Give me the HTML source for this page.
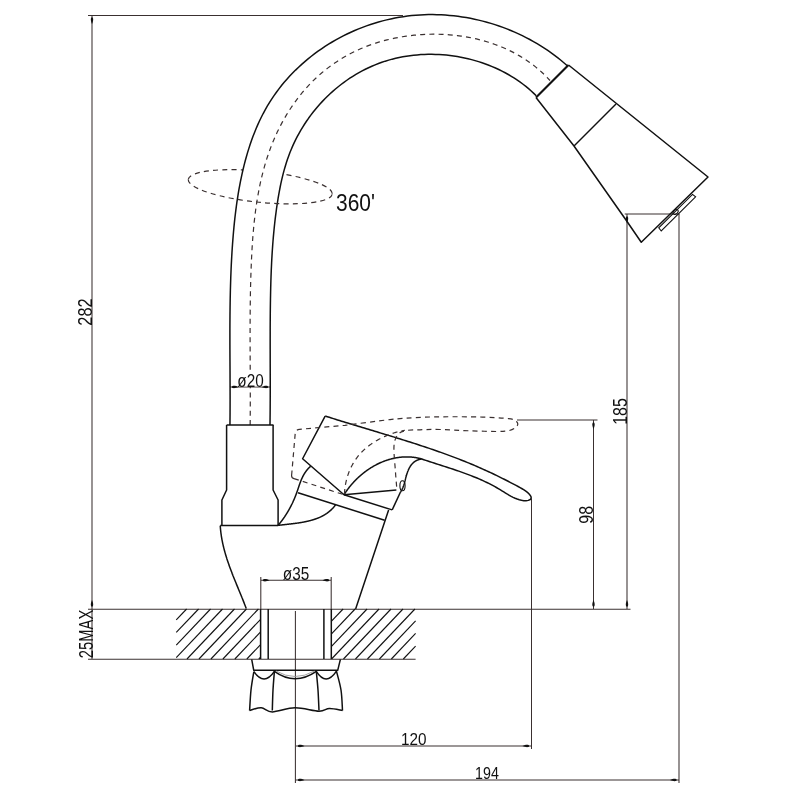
<!DOCTYPE html>
<html><head><meta charset="utf-8"><style>
html,body{margin:0;padding:0;background:#fff;width:800px;height:800px;overflow:hidden}
svg{display:block}
</style></head><body>
<svg width="800" height="800" viewBox="0 0 800 800">
<rect width="800" height="800" fill="#fff"/>
<path d="M188.29,179.44 A72.35,15.65 5.79 0 1 332.25,194.04" stroke="#3a3030" stroke-width="1.2" fill="none" stroke-dasharray="5 4.2"/>
<path d="M229.94,425.00 L229.99,420.79 L230.03,416.58 L230.06,412.37 L230.08,408.16 L230.09,403.95 L230.10,399.74 L230.10,395.53 L230.09,391.32 L230.08,387.11 L230.07,382.90 L230.05,378.69 L230.04,374.48 L230.02,370.26 L230.00,366.05 L229.98,361.84 L229.96,357.63 L229.94,353.42 L229.92,349.21 L229.91,345.00 L229.90,340.79 L229.90,336.58 L229.90,332.38 L229.91,328.17 L229.92,323.96 L229.95,319.75 L229.98,315.54 L230.02,311.34 L230.07,307.13 L230.13,302.92 L230.20,298.72 L230.29,294.51 L230.38,290.31 L230.50,286.10 L230.62,281.90 L230.76,277.70 L230.92,273.50 L231.09,269.29 L231.28,265.09 L231.49,260.89 L231.72,256.69 L231.97,252.49 L232.24,248.30 L232.53,244.10 L232.85,239.90 L233.18,235.71 L233.54,231.51 L233.93,227.32 L234.34,223.13 L234.79,218.94 L235.27,214.76 L235.78,210.57 L236.33,206.40 L236.91,202.22 L237.54,198.05 L238.20,193.89 L238.91,189.73 L239.67,185.58 L240.47,181.43 L241.32,177.29 L242.22,173.16 L243.17,169.03 L244.18,164.92 L245.25,160.81 L246.37,156.72 L247.55,152.65 L248.80,148.60 L250.11,144.57 L251.49,140.56 L252.93,136.59 L254.45,132.65 L256.04,128.74 L257.71,124.87 L259.46,121.04 L261.28,117.26 L263.19,113.52 L265.18,109.83 L267.26,106.19 L269.42,102.61 L271.67,99.09 L274.01,95.62 L276.43,92.21 L278.94,88.87 L281.52,85.58 L284.18,82.35 L286.92,79.19 L289.73,76.09 L292.62,73.06 L295.57,70.09 L298.59,67.19 L301.68,64.35 L304.84,61.58 L308.06,58.88 L311.33,56.26 L314.67,53.70 L318.06,51.21 L321.51,48.80 L325.01,46.46 L328.57,44.20 L332.17,42.01 L335.82,39.90 L339.52,37.87 L343.25,35.91 L347.04,34.04 L350.86,32.24 L354.71,30.53 L358.61,28.90 L362.54,27.35 L366.50,25.88 L370.49,24.51 L374.51,23.21 L378.55,22.01 L382.62,20.89 L386.71,19.86 L390.83,18.92 L394.96,18.07 L399.11,17.31 L403.27,16.65 L407.45,16.08 L411.63,15.60 L415.83,15.22 L420.03,14.92 L424.24,14.72 L428.46,14.61 L432.68,14.58 L436.89,14.65 L441.11,14.81 L445.32,15.05 L449.53,15.38 L453.72,15.80 L457.92,16.31 L462.10,16.90 L466.26,17.57 L470.42,18.33 L474.56,19.18 L478.68,20.11 L482.78,21.12 L486.86,22.22 L490.92,23.39 L494.95,24.65 L498.95,25.99 L502.93,27.41 L506.87,28.90 L510.79,30.48 L514.67,32.14 L518.51,33.87 L522.32,35.68 L526.08,37.57 L529.81,39.53 L533.49,41.57 L537.13,43.68 L540.72,45.87 L544.26,48.13 L547.76,50.46 L551.20,52.87 L554.58,55.35 L557.91,57.90 L561.19,60.52 L564.40,63.21 L567.56,65.98 L536.26,95.80 L533.77,93.35 L531.21,90.97 L528.57,88.66 L525.86,86.42 L523.08,84.25 L520.24,82.16 L517.34,80.13 L514.38,78.18 L511.36,76.30 L508.29,74.50 L505.16,72.77 L501.98,71.12 L498.76,69.53 L495.49,68.03 L492.18,66.60 L488.83,65.25 L485.44,63.97 L482.02,62.77 L478.56,61.65 L475.07,60.61 L471.56,59.64 L468.02,58.75 L464.46,57.95 L460.87,57.22 L457.27,56.57 L453.66,56.01 L450.03,55.52 L446.39,55.12 L442.74,54.80 L439.08,54.56 L435.43,54.40 L431.77,54.33 L428.11,54.34 L424.46,54.43 L420.81,54.61 L417.17,54.88 L413.55,55.23 L409.94,55.66 L406.34,56.19 L402.77,56.80 L399.21,57.49 L395.68,58.28 L392.18,59.15 L388.70,60.11 L385.25,61.16 L381.84,62.30 L378.46,63.53 L375.12,64.84 L371.82,66.24 L368.55,67.72 L365.32,69.28 L362.14,70.92 L358.99,72.64 L355.89,74.43 L352.83,76.30 L349.81,78.24 L346.85,80.26 L343.93,82.34 L341.05,84.50 L338.23,86.72 L335.46,89.01 L332.74,91.36 L330.08,93.77 L327.47,96.25 L324.92,98.78 L322.42,101.38 L319.98,104.02 L317.60,106.73 L315.28,109.48 L313.03,112.29 L310.83,115.15 L308.70,118.06 L306.64,121.01 L304.64,124.01 L302.71,127.06 L300.85,130.14 L299.06,133.27 L297.34,136.44 L295.69,139.64 L294.12,142.88 L292.62,146.16 L291.20,149.46 L289.85,152.80 L288.59,156.17 L287.39,159.57 L286.26,162.99 L285.21,166.44 L284.21,169.91 L283.27,173.40 L282.40,176.90 L281.57,180.43 L280.79,183.96 L280.07,187.51 L279.38,191.07 L278.74,194.64 L278.13,198.21 L277.55,201.79 L277.01,205.37 L276.49,208.95 L276.01,212.54 L275.54,216.12 L275.11,219.71 L274.70,223.29 L274.31,226.88 L273.95,230.47 L273.61,234.06 L273.29,237.65 L272.99,241.24 L272.71,244.84 L272.46,248.43 L272.22,252.03 L272.00,255.62 L271.79,259.22 L271.61,262.82 L271.44,266.41 L271.28,270.01 L271.14,273.61 L271.01,277.21 L270.89,280.81 L270.79,284.41 L270.69,288.01 L270.61,291.61 L270.54,295.22 L270.47,298.82 L270.41,302.42 L270.36,306.03 L270.32,309.63 L270.28,313.23 L270.25,316.84 L270.23,320.44 L270.21,324.05 L270.19,327.65 L270.18,331.26 L270.18,334.86 L270.17,338.47 L270.17,342.07 L270.17,345.68 L270.18,349.28 L270.19,352.89 L270.19,356.50 L270.20,360.10 L270.21,363.71 L270.22,367.31 L270.22,370.92 L270.23,374.53 L270.24,378.13 L270.24,381.74 L270.24,385.34 L270.24,388.95 L270.24,392.56 L270.23,396.16 L270.22,399.77 L270.20,403.37 L270.18,406.98 L270.15,410.58 L270.12,414.19 L270.08,417.79 L270.04,421.39 L269.99,425.00Z" fill="#fff" stroke="none"/>
<line x1="88.00" y1="15.50" x2="403.00" y2="15.50" stroke="#3a3030" stroke-width="1.05" fill="none"/>
<line x1="92.00" y1="15.00" x2="92.00" y2="659.00" stroke="#3a3030" stroke-width="1.05" fill="none"/>
<line x1="88.00" y1="609.30" x2="630.50" y2="609.30" stroke="#3a3030" stroke-width="1.05" fill="none"/>
<line x1="88.00" y1="659.30" x2="415.60" y2="659.30" stroke="#3a3030" stroke-width="1.05" fill="none"/>
<path d="M92.00,17.20 C93.80,17.80 93.35,20.94 92.00,24.00 C90.65,20.94 90.20,17.80 92.00,17.20 Z" fill="#111"/>
<path d="M92.00,606.80 C90.20,606.20 90.65,603.06 92.00,600.00 C93.35,603.06 93.80,606.20 92.00,606.80 Z" fill="#111"/>
<line x1="624.75" y1="214.00" x2="679.40" y2="214.00" stroke="#3a3030" stroke-width="1.05" fill="none"/>
<line x1="627.00" y1="214.00" x2="627.00" y2="609.00" stroke="#3a3030" stroke-width="1.05" fill="none"/>
<path d="M627.00,216.20 C628.80,216.80 628.35,219.94 627.00,223.00 C625.65,219.94 625.20,216.80 627.00,216.20 Z" fill="#111"/>
<path d="M627.00,606.80 C625.20,606.20 625.65,603.06 627.00,600.00 C628.35,603.06 628.80,606.20 627.00,606.80 Z" fill="#111"/>
<line x1="679.00" y1="214.00" x2="679.00" y2="783.00" stroke="#3a3030" stroke-width="1.05" fill="none"/>
<line x1="295.40" y1="780.00" x2="679.00" y2="780.00" stroke="#3a3030" stroke-width="1.05" fill="none"/>
<path d="M297.70,780.00 C298.30,778.20 301.44,778.65 304.50,780.00 C301.44,781.35 298.30,781.80 297.70,780.00 Z" fill="#111"/>
<path d="M676.80,780.00 C676.20,781.80 673.06,781.35 670.00,780.00 C673.06,778.65 676.20,778.20 676.80,780.00 Z" fill="#111"/>
<line x1="517.00" y1="420.00" x2="597.50" y2="420.00" stroke="#3a3030" stroke-width="1.05" fill="none"/>
<line x1="593.50" y1="420.00" x2="593.50" y2="609.00" stroke="#3a3030" stroke-width="1.05" fill="none"/>
<path d="M593.50,422.20 C595.30,422.80 594.85,425.94 593.50,429.00 C592.15,425.94 591.70,422.80 593.50,422.20 Z" fill="#111"/>
<path d="M593.50,606.80 C591.70,606.20 592.15,603.06 593.50,600.00 C594.85,603.06 595.30,606.20 593.50,606.80 Z" fill="#111"/>
<line x1="531.50" y1="499.00" x2="531.50" y2="749.00" stroke="#3a3030" stroke-width="1.05" fill="none"/>
<line x1="296.00" y1="746.00" x2="531.00" y2="746.00" stroke="#3a3030" stroke-width="1.05" fill="none"/>
<path d="M297.70,746.00 C298.30,744.20 301.44,744.65 304.50,746.00 C301.44,747.35 298.30,747.80 297.70,746.00 Z" fill="#111"/>
<path d="M529.30,746.00 C528.70,747.80 525.56,747.35 522.50,746.00 C525.56,744.65 528.70,744.20 529.30,746.00 Z" fill="#111"/>
<line x1="260.80" y1="577.00" x2="260.80" y2="609.00" stroke="#3a3030" stroke-width="1.05" fill="none"/>
<line x1="331.20" y1="577.00" x2="331.20" y2="609.00" stroke="#3a3030" stroke-width="1.05" fill="none"/>
<line x1="261.00" y1="580.20" x2="331.00" y2="580.20" stroke="#3a3030" stroke-width="1.05" fill="none"/>
<path d="M262.70,580.20 C263.30,578.40 266.44,578.85 269.50,580.20 C266.44,581.55 263.30,582.00 262.70,580.20 Z" fill="#111"/>
<path d="M329.30,580.20 C328.70,582.00 325.56,581.55 322.50,580.20 C325.56,578.85 328.70,578.40 329.30,580.20 Z" fill="#111"/>
<line x1="230.00" y1="387.00" x2="270.00" y2="387.00" stroke="#3a3030" stroke-width="1.05" fill="none"/>
<path d="M231.70,387.00 C232.30,385.20 235.44,385.65 238.50,387.00 C235.44,388.35 232.30,388.80 231.70,387.00 Z" fill="#111"/>
<path d="M268.30,387.00 C267.70,388.80 264.56,388.35 261.50,387.00 C264.56,385.65 267.70,385.20 268.30,387.00 Z" fill="#111"/>
<line x1="295.40" y1="611.00" x2="295.40" y2="783.00" stroke="#3a3030" stroke-width="1.05" fill="none"/>
<line x1="176.25" y1="619.89" x2="186.60" y2="609.00" stroke="#111" stroke-width="1.1"/>
<line x1="176.25" y1="632.49" x2="198.57" y2="609.00" stroke="#111" stroke-width="1.1"/>
<line x1="176.25" y1="645.09" x2="210.54" y2="609.00" stroke="#111" stroke-width="1.1"/>
<line x1="176.25" y1="657.69" x2="222.51" y2="609.00" stroke="#111" stroke-width="1.1"/>
<line x1="186.98" y1="659.00" x2="234.48" y2="609.00" stroke="#111" stroke-width="1.1"/>
<line x1="198.95" y1="659.00" x2="246.45" y2="609.00" stroke="#111" stroke-width="1.1"/>
<line x1="210.92" y1="659.00" x2="258.42" y2="609.00" stroke="#111" stroke-width="1.1"/>
<line x1="222.89" y1="659.00" x2="260.60" y2="619.31" stroke="#111" stroke-width="1.1"/>
<line x1="234.86" y1="659.00" x2="260.60" y2="631.91" stroke="#111" stroke-width="1.1"/>
<line x1="246.83" y1="659.00" x2="260.60" y2="644.51" stroke="#111" stroke-width="1.1"/>
<line x1="258.80" y1="659.00" x2="260.60" y2="657.11" stroke="#111" stroke-width="1.1"/>
<line x1="331.25" y1="621.48" x2="343.11" y2="609.00" stroke="#111" stroke-width="1.1"/>
<line x1="331.25" y1="634.08" x2="355.08" y2="609.00" stroke="#111" stroke-width="1.1"/>
<line x1="331.25" y1="646.68" x2="367.05" y2="609.00" stroke="#111" stroke-width="1.1"/>
<line x1="331.52" y1="659.00" x2="379.02" y2="609.00" stroke="#111" stroke-width="1.1"/>
<line x1="343.49" y1="659.00" x2="390.99" y2="609.00" stroke="#111" stroke-width="1.1"/>
<line x1="355.46" y1="659.00" x2="402.96" y2="609.00" stroke="#111" stroke-width="1.1"/>
<line x1="367.43" y1="659.00" x2="414.93" y2="609.00" stroke="#111" stroke-width="1.1"/>
<line x1="379.40" y1="659.00" x2="415.60" y2="620.89" stroke="#111" stroke-width="1.1"/>
<line x1="391.37" y1="659.00" x2="415.60" y2="633.49" stroke="#111" stroke-width="1.1"/>
<line x1="403.34" y1="659.00" x2="415.60" y2="646.09" stroke="#111" stroke-width="1.1"/>
<line x1="260.60" y1="609.00" x2="260.60" y2="659.00" stroke="#111" stroke-width="1.5" fill="none" stroke-linejoin="round"/>
<line x1="268.20" y1="609.00" x2="268.20" y2="659.00" stroke="#111" stroke-width="1.5" fill="none" stroke-linejoin="round"/>
<line x1="323.90" y1="609.00" x2="323.90" y2="659.00" stroke="#111" stroke-width="1.5" fill="none" stroke-linejoin="round"/>
<line x1="331.30" y1="609.00" x2="331.30" y2="659.00" stroke="#111" stroke-width="1.5" fill="none" stroke-linejoin="round"/>
<path d="M229.94,425.00 L229.99,420.79 L230.03,416.58 L230.06,412.37 L230.08,408.16 L230.09,403.95 L230.10,399.74 L230.10,395.53 L230.09,391.32 L230.08,387.11 L230.07,382.90 L230.05,378.69 L230.04,374.48 L230.02,370.26 L230.00,366.05 L229.98,361.84 L229.96,357.63 L229.94,353.42 L229.92,349.21 L229.91,345.00 L229.90,340.79 L229.90,336.58 L229.90,332.38 L229.91,328.17 L229.92,323.96 L229.95,319.75 L229.98,315.54 L230.02,311.34 L230.07,307.13 L230.13,302.92 L230.20,298.72 L230.29,294.51 L230.38,290.31 L230.50,286.10 L230.62,281.90 L230.76,277.70 L230.92,273.50 L231.09,269.29 L231.28,265.09 L231.49,260.89 L231.72,256.69 L231.97,252.49 L232.24,248.30 L232.53,244.10 L232.85,239.90 L233.18,235.71 L233.54,231.51 L233.93,227.32 L234.34,223.13 L234.79,218.94 L235.27,214.76 L235.78,210.57 L236.33,206.40 L236.91,202.22 L237.54,198.05 L238.20,193.89 L238.91,189.73 L239.67,185.58 L240.47,181.43 L241.32,177.29 L242.22,173.16 L243.17,169.03 L244.18,164.92 L245.25,160.81 L246.37,156.72 L247.55,152.65 L248.80,148.60 L250.11,144.57 L251.49,140.56 L252.93,136.59 L254.45,132.65 L256.04,128.74 L257.71,124.87 L259.46,121.04 L261.28,117.26 L263.19,113.52 L265.18,109.83 L267.26,106.19 L269.42,102.61 L271.67,99.09 L274.01,95.62 L276.43,92.21 L278.94,88.87 L281.52,85.58 L284.18,82.35 L286.92,79.19 L289.73,76.09 L292.62,73.06 L295.57,70.09 L298.59,67.19 L301.68,64.35 L304.84,61.58 L308.06,58.88 L311.33,56.26 L314.67,53.70 L318.06,51.21 L321.51,48.80 L325.01,46.46 L328.57,44.20 L332.17,42.01 L335.82,39.90 L339.52,37.87 L343.25,35.91 L347.04,34.04 L350.86,32.24 L354.71,30.53 L358.61,28.90 L362.54,27.35 L366.50,25.88 L370.49,24.51 L374.51,23.21 L378.55,22.01 L382.62,20.89 L386.71,19.86 L390.83,18.92 L394.96,18.07 L399.11,17.31 L403.27,16.65 L407.45,16.08 L411.63,15.60 L415.83,15.22 L420.03,14.92 L424.24,14.72 L428.46,14.61 L432.68,14.58 L436.89,14.65 L441.11,14.81 L445.32,15.05 L449.53,15.38 L453.72,15.80 L457.92,16.31 L462.10,16.90 L466.26,17.57 L470.42,18.33 L474.56,19.18 L478.68,20.11 L482.78,21.12 L486.86,22.22 L490.92,23.39 L494.95,24.65 L498.95,25.99 L502.93,27.41 L506.87,28.90 L510.79,30.48 L514.67,32.14 L518.51,33.87 L522.32,35.68 L526.08,37.57 L529.81,39.53 L533.49,41.57 L537.13,43.68 L540.72,45.87 L544.26,48.13 L547.76,50.46 L551.20,52.87 L554.58,55.35 L557.91,57.90 L561.19,60.52 L564.40,63.21 L567.56,65.98" stroke="#111" stroke-width="1.5" fill="none" stroke-linejoin="round"/>
<path d="M269.99,425.00 L270.04,421.39 L270.08,417.79 L270.12,414.19 L270.15,410.58 L270.18,406.98 L270.20,403.37 L270.22,399.77 L270.23,396.16 L270.24,392.56 L270.24,388.95 L270.24,385.34 L270.24,381.74 L270.24,378.13 L270.23,374.53 L270.22,370.92 L270.22,367.31 L270.21,363.71 L270.20,360.10 L270.19,356.50 L270.19,352.89 L270.18,349.28 L270.17,345.68 L270.17,342.07 L270.17,338.47 L270.18,334.86 L270.18,331.26 L270.19,327.65 L270.21,324.05 L270.23,320.44 L270.25,316.84 L270.28,313.23 L270.32,309.63 L270.36,306.03 L270.41,302.42 L270.47,298.82 L270.54,295.22 L270.61,291.61 L270.69,288.01 L270.79,284.41 L270.89,280.81 L271.01,277.21 L271.14,273.61 L271.28,270.01 L271.44,266.41 L271.61,262.82 L271.79,259.22 L272.00,255.62 L272.22,252.03 L272.46,248.43 L272.71,244.84 L272.99,241.24 L273.29,237.65 L273.61,234.06 L273.95,230.47 L274.31,226.88 L274.70,223.29 L275.11,219.71 L275.54,216.12 L276.01,212.54 L276.49,208.95 L277.01,205.37 L277.55,201.79 L278.13,198.21 L278.74,194.64 L279.38,191.07 L280.07,187.51 L280.79,183.96 L281.57,180.43 L282.40,176.90 L283.27,173.40 L284.21,169.91 L285.21,166.44 L286.26,162.99 L287.39,159.57 L288.59,156.17 L289.85,152.80 L291.20,149.46 L292.62,146.16 L294.12,142.88 L295.69,139.64 L297.34,136.44 L299.06,133.27 L300.85,130.14 L302.71,127.06 L304.64,124.01 L306.64,121.01 L308.70,118.06 L310.83,115.15 L313.03,112.29 L315.28,109.48 L317.60,106.73 L319.98,104.02 L322.42,101.38 L324.92,98.78 L327.47,96.25 L330.08,93.77 L332.74,91.36 L335.46,89.01 L338.23,86.72 L341.05,84.50 L343.93,82.34 L346.85,80.26 L349.81,78.24 L352.83,76.30 L355.89,74.43 L358.99,72.64 L362.14,70.92 L365.32,69.28 L368.55,67.72 L371.82,66.24 L375.12,64.84 L378.46,63.53 L381.84,62.30 L385.25,61.16 L388.70,60.11 L392.18,59.15 L395.68,58.28 L399.21,57.49 L402.77,56.80 L406.34,56.19 L409.94,55.66 L413.55,55.23 L417.17,54.88 L420.81,54.61 L424.46,54.43 L428.11,54.34 L431.77,54.33 L435.43,54.40 L439.08,54.56 L442.74,54.80 L446.39,55.12 L450.03,55.52 L453.66,56.01 L457.27,56.57 L460.87,57.22 L464.46,57.95 L468.02,58.75 L471.56,59.64 L475.07,60.61 L478.56,61.65 L482.02,62.77 L485.44,63.97 L488.83,65.25 L492.18,66.60 L495.49,68.03 L498.76,69.53 L501.98,71.12 L505.16,72.77 L508.29,74.50 L511.36,76.30 L514.38,78.18 L517.34,80.13 L520.24,82.16 L523.08,84.25 L525.86,86.42 L528.57,88.66 L531.21,90.97 L533.77,93.35 L536.26,95.80" stroke="#111" stroke-width="1.5" fill="none" stroke-linejoin="round"/>
<path d="M250.15,425.02 L250.19,421.11 L250.22,417.20 L250.25,413.28 L250.27,409.37 L250.28,405.47 L250.29,401.56 L250.29,397.65 L250.29,393.75 L250.28,389.85 L250.28,385.94 L250.26,382.04 L250.25,378.14 L250.23,374.24 L250.22,370.34 L250.20,366.44 L250.18,362.55 L250.16,358.65 L250.15,354.75 L250.13,350.85 L250.12,346.95 L250.11,343.06 L250.10,339.16 L250.09,335.26 L250.09,331.36 L250.10,327.47 L250.11,323.57 L250.12,319.67 L250.15,315.77 L250.18,311.86 L250.21,307.96 L250.26,304.06 L250.31,300.16 L250.37,296.25 L250.44,292.34 L250.52,288.44 L250.62,284.53 L250.72,280.62 L250.83,276.70 L250.96,272.79 L251.10,268.87 L251.26,264.96 L251.42,261.04 L251.61,257.11 L251.81,253.19 L252.03,249.27 L252.27,245.35 L252.53,241.43 L252.81,237.52 L253.13,233.61 L253.46,229.70 L253.83,225.79 L254.23,221.90 L254.66,218.01 L255.12,214.12 L255.62,210.25 L256.16,206.38 L256.74,202.52 L257.35,198.68 L258.01,194.84 L258.71,191.02 L259.46,187.21 L260.25,183.41 L261.10,179.62 L261.99,175.86 L262.94,172.10 L263.94,168.37 L265.00,164.65 L266.11,160.95 L267.28,157.27 L268.51,153.60 L269.81,149.96 L271.16,146.34 L272.59,142.74 L274.08,139.17 L275.64,135.61 L277.27,132.09 L278.97,128.58 L280.75,125.11 L282.59,121.66 L284.51,118.25 L286.50,114.87 L288.57,111.53 L290.70,108.23 L292.90,104.98 L295.17,101.77 L297.51,98.62 L299.92,95.52 L302.40,92.48 L304.94,89.49 L307.56,86.57 L310.23,83.72 L312.98,80.93 L315.79,78.22 L318.66,75.58 L321.60,73.02 L324.60,70.53 L327.66,68.13 L330.78,65.80 L333.95,63.56 L337.18,61.39 L340.46,59.31 L343.79,57.30 L347.17,55.39 L350.60,53.55 L354.07,51.80 L357.59,50.13 L361.14,48.55 L364.74,47.05 L368.37,45.65 L372.03,44.32 L375.73,43.09 L379.46,41.94 L383.21,40.87 L387.00,39.89 L390.81,38.98 L394.64,38.16 L398.49,37.42 L402.36,36.75 L406.24,36.16 L410.14,35.65 L414.05,35.21 L417.97,34.85 L421.90,34.56 L425.83,34.36 L429.76,34.23 L433.70,34.18 L437.63,34.21 L441.57,34.32 L445.49,34.51 L449.41,34.78 L453.32,35.13 L457.22,35.56 L461.10,36.07 L464.97,36.67 L468.81,37.35 L472.64,38.11 L476.45,38.96 L480.23,39.89 L483.98,40.90 L487.70,42.00 L491.40,43.18 L495.05,44.46 L498.68,45.81 L502.26,47.26 L505.81,48.80 L509.31,50.43 L512.77,52.15 L516.18,53.96 L519.55,55.87 L522.86,57.88 L526.12,59.98 L529.32,62.19 L532.46,64.49 L535.55,66.89 L538.57,69.40 L541.53,72.01 L544.42,74.73 L547.25,77.55 L550.00,80.48" stroke="#3a3030" stroke-width="1.2" fill="none" stroke-dasharray="5 4.2"/>
<path d="M188.29,179.44 A72.35,15.65 5.79 0 0 332.25,194.04" stroke="#3a3030" stroke-width="1.2" fill="none" stroke-dasharray="5 4.2"/>
<path d="M568.50,65.00 L708.00,177.00 L641.25,242.25 L626.00,220.00 L574.00,146.00 L536.00,97.50" stroke="#111" stroke-width="1.5" fill="none" stroke-linejoin="round"/>
<path d="M568.50,65.00 L536.00,97.50" stroke="#111" stroke-width="2.2" fill="none"/>
<path d="M574.00,146.00 L616.00,104.00" stroke="#111" stroke-width="1.5" fill="none" stroke-linejoin="round"/>
<path d="M692.50,194.40 L695.60,196.90 L661.25,231.00 L658.75,227.75Z" stroke="#111" stroke-width="1.1" fill="none"/>
<ellipse cx="675.6" cy="211.9" rx="3" ry="2" transform="rotate(-45 675.6 211.9)" stroke="#111" stroke-width="1" fill="none"/>
<path d="M226.60,425.00 L273.50,425.00" stroke="#111" stroke-width="1.5" fill="none" stroke-linejoin="round"/>
<path d="M226.60,425.00 L226.60,490.00 L221.90,500.00 L221.90,525.50" stroke="#111" stroke-width="1.5" fill="none" stroke-linejoin="round"/>
<path d="M273.10,425.00 L273.10,490.00 L278.10,500.00 L278.10,525.50" stroke="#111" stroke-width="1.5" fill="none" stroke-linejoin="round"/>
<path d="M220.25,525.50 L278.10,525.50" stroke="#111" stroke-width="1.5" fill="none" stroke-linejoin="round"/>
<path d="M220.25,525.60 L220.28,526.16 L220.32,526.71 L220.36,527.27 L220.40,527.82 L220.44,528.37 L220.49,528.92 L220.54,529.48 L220.60,530.03 L220.65,530.58 L220.71,531.13 L220.77,531.67 L220.84,532.22 L220.90,532.77 L220.97,533.32 L221.05,533.86 L221.12,534.41 L221.20,534.95 L221.28,535.50 L221.36,536.04 L221.44,536.58 L221.53,537.13 L221.62,537.67 L221.71,538.21 L221.81,538.75 L221.91,539.29 L222.00,539.83 L222.11,540.37 L222.21,540.91 L222.32,541.44 L222.43,541.98 L222.54,542.52 L222.65,543.05 L222.76,543.59 L222.88,544.12 L223.00,544.66 L223.12,545.19 L223.25,545.72 L223.37,546.26 L223.50,546.79 L223.63,547.32 L223.76,547.85 L223.89,548.38 L224.03,548.91 L224.17,549.44 L224.31,549.97 L224.45,550.50 L224.59,551.03 L224.74,551.56 L224.88,552.08 L225.03,552.61 L225.18,553.14 L225.33,553.66 L225.49,554.19 L225.64,554.71 L225.80,555.24 L225.96,555.76 L226.12,556.28 L226.28,556.81 L226.44,557.33 L226.61,557.85 L226.77,558.38 L226.94,558.90 L227.11,559.42 L227.28,559.94 L227.45,560.46 L227.62,560.98 L227.80,561.50 L227.97,562.02 L228.15,562.54 L228.33,563.06 L228.51,563.58 L228.69,564.09 L228.87,564.61 L229.06,565.13 L229.24,565.65 L229.42,566.16 L229.61,566.68 L229.80,567.20 L229.99,567.71 L230.18,568.23 L230.37,568.74 L230.56,569.26 L230.75,569.77 L230.95,570.29 L231.14,570.80 L231.33,571.31 L231.53,571.83 L231.73,572.34 L231.93,572.85 L232.12,573.37 L232.32,573.88 L232.52,574.39 L232.72,574.90 L232.92,575.42 L233.13,575.93 L233.33,576.44 L233.53,576.95 L233.74,577.46 L233.94,577.97 L234.14,578.48 L234.35,579.00 L234.55,579.51 L234.76,580.02 L234.97,580.53 L235.17,581.04 L235.38,581.55 L235.59,582.06 L235.80,582.57 L236.01,583.08 L236.21,583.58 L236.42,584.09 L236.63,584.60 L236.84,585.11 L237.05,585.62 L237.26,586.13 L237.47,586.64 L237.68,587.15 L237.89,587.66 L238.10,588.16 L238.31,588.67 L238.52,589.18 L238.73,589.69 L238.94,590.20 L239.15,590.70 L239.36,591.21 L239.57,591.72 L239.78,592.23 L239.99,592.74 L240.20,593.24 L240.40,593.75 L240.61,594.26 L240.82,594.77 L241.03,595.28 L241.24,595.78 L241.44,596.29 L241.65,596.80 L241.86,597.31 L242.06,597.82 L242.27,598.32 L242.47,598.83 L242.68,599.34 L242.88,599.85 L243.09,600.36 L243.29,600.87 L243.49,601.37 L243.69,601.88 L243.89,602.39 L244.10,602.90 L244.30,603.41 L244.49,603.92 L244.69,604.43 L244.89,604.93 L245.09,605.44 L245.28,605.95 L245.48,606.46 L245.67,606.97 L245.87,607.48 L246.06,607.99 L246.25,608.50" stroke="#111" stroke-width="1.5" fill="none" stroke-linejoin="round"/>
<path d="M388.60,510.00 L355.60,609.00" stroke="#111" stroke-width="1.5" fill="none" stroke-linejoin="round"/>
<path d="M278.09,525.40 L278.37,525.07 L278.64,524.74 L278.92,524.40 L279.19,524.07 L279.46,523.74 L279.73,523.40 L280.00,523.06 L280.26,522.73 L280.53,522.39 L280.79,522.05 L281.05,521.71 L281.31,521.37 L281.57,521.02 L281.83,520.68 L282.09,520.33 L282.34,519.99 L282.59,519.64 L282.84,519.29 L283.09,518.95 L283.34,518.60 L283.59,518.25 L283.83,517.89 L284.07,517.54 L284.32,517.19 L284.56,516.83 L284.80,516.48 L285.03,516.12 L285.27,515.76 L285.50,515.41 L285.74,515.05 L285.97,514.69 L286.20,514.33 L286.43,513.96 L286.65,513.60 L286.88,513.24 L287.10,512.87 L287.32,512.51 L287.54,512.14 L287.76,511.78 L287.98,511.41 L288.20,511.04 L288.41,510.67 L288.63,510.30 L288.84,509.93 L289.05,509.55 L289.26,509.18 L289.46,508.81 L289.67,508.43 L289.87,508.06 L290.08,507.68 L290.28,507.30 L290.48,506.93 L290.68,506.55 L290.87,506.17 L291.07,505.79 L291.26,505.41 L291.45,505.02 L291.64,504.64 L291.83,504.26 L292.02,503.87 L292.21,503.49 L292.39,503.10 L292.58,502.72 L292.76,502.33 L292.94,501.94 L293.12,501.55 L293.29,501.16 L293.47,500.77 L293.64,500.38 L293.82,499.99 L293.99,499.60 L294.16,499.20 L294.33,498.81 L294.49,498.42 L294.66,498.02 L294.82,497.63 L294.99,497.23 L295.15,496.83 L295.31,496.43 L295.46,496.04 L295.62,495.64 L295.78,495.24 L295.93,494.84 L296.08,494.44 L296.23,494.03 L296.38,493.63 L296.53,493.23 L296.68,492.82 L296.82,492.42 L296.96,492.02 L297.11,491.61 L297.25,491.21 L297.39,490.80 L297.53,490.39 L297.66,489.99 L297.80,489.58 L297.94,489.17 L298.08,488.76 L298.21,488.36 L298.35,487.95 L298.48,487.54 L298.62,487.14 L298.76,486.73 L298.89,486.32 L299.03,485.92 L299.17,485.51 L299.31,485.11 L299.45,484.70 L299.59,484.30 L299.73,483.89 L299.88,483.49 L300.02,483.09 L300.17,482.69 L300.32,482.29 L300.47,481.89 L300.62,481.49 L300.78,481.09 L300.93,480.70 L301.09,480.30 L301.26,479.91 L301.42,479.52 L301.59,479.13 L301.76,478.74 L301.93,478.35 L302.11,477.97 L302.29,477.58 L302.47,477.20 L302.66,476.82 L302.85,476.44 L303.05,476.06 L303.24,475.69 L303.45,475.31 L303.65,474.94 L303.86,474.58 L304.08,474.21 L304.29,473.84 L304.52,473.48 L304.74,473.12 L304.97,472.77 L305.21,472.41 L305.45,472.06 L305.70,471.71 L305.95,471.36 L306.20,471.02 L306.46,470.68 L306.73,470.34 L307.00,470.00 L307.27,469.67 L307.55,469.34 L307.84,469.01 L308.13,468.69 L308.43,468.37 L308.74,468.05 L309.05,467.74 L309.36,467.43 L309.69,467.12 L310.01,466.82 L310.35,466.52 L310.69,466.22" stroke="#111" stroke-width="1.5" fill="none" stroke-linejoin="round"/>
<path d="M278.10,525.40 L278.46,525.35 L278.82,525.30 L279.18,525.26 L279.55,525.21 L279.91,525.16 L280.28,525.12 L280.65,525.07 L281.02,525.03 L281.39,524.98 L281.76,524.94 L282.14,524.90 L282.51,524.85 L282.89,524.81 L283.27,524.76 L283.65,524.72 L284.03,524.68 L284.41,524.63 L284.79,524.59 L285.18,524.55 L285.56,524.51 L285.95,524.46 L286.34,524.42 L286.72,524.38 L287.11,524.33 L287.50,524.29 L287.89,524.25 L288.28,524.20 L288.68,524.16 L289.07,524.11 L289.46,524.07 L289.86,524.02 L290.25,523.98 L290.65,523.93 L291.04,523.89 L291.44,523.84 L291.84,523.79 L292.24,523.75 L292.64,523.70 L293.04,523.65 L293.44,523.60 L293.84,523.55 L294.24,523.50 L294.64,523.45 L295.04,523.40 L295.44,523.34 L295.84,523.29 L296.24,523.23 L296.65,523.18 L297.05,523.12 L297.45,523.07 L297.85,523.01 L298.26,522.95 L298.66,522.89 L299.06,522.83 L299.46,522.77 L299.87,522.70 L300.27,522.64 L300.67,522.57 L301.08,522.51 L301.48,522.44 L301.88,522.37 L302.28,522.30 L302.68,522.23 L303.09,522.15 L303.49,522.08 L303.89,522.00 L304.29,521.93 L304.69,521.85 L305.09,521.77 L305.49,521.69 L305.89,521.60 L306.29,521.52 L306.68,521.43 L307.08,521.34 L307.48,521.26 L307.87,521.16 L308.27,521.07 L308.66,520.98 L309.06,520.88 L309.45,520.78 L309.84,520.68 L310.24,520.58 L310.63,520.47 L311.02,520.37 L311.41,520.26 L311.79,520.15 L312.18,520.04 L312.57,519.93 L312.95,519.81 L313.34,519.69 L313.72,519.57 L314.10,519.45 L314.48,519.32 L314.86,519.20 L315.24,519.07 L315.62,518.94 L315.99,518.80 L316.37,518.67 L316.74,518.53 L317.11,518.39 L317.48,518.24 L317.85,518.10 L318.22,517.95 L318.59,517.80 L318.95,517.64 L319.32,517.49 L319.68,517.33 L320.04,517.17 L320.40,517.00 L320.75,516.84 L321.11,516.67 L321.46,516.49 L321.81,516.32 L322.16,516.14 L322.51,515.96 L322.86,515.78 L323.20,515.59 L323.55,515.40 L323.89,515.21 L324.23,515.01 L324.56,514.81 L324.90,514.61 L325.23,514.41 L325.56,514.20 L325.89,513.99 L326.22,513.77 L326.54,513.56 L326.86,513.33 L327.18,513.11 L327.50,512.88 L327.82,512.65 L328.13,512.42 L328.44,512.18 L328.75,511.94 L329.05,511.69 L329.36,511.45 L329.66,511.19 L329.96,510.94 L330.25,510.68 L330.55,510.42 L330.84,510.15 L331.13,509.88 L331.41,509.61 L331.69,509.33 L331.97,509.05 L332.25,508.76 L332.53,508.48 L332.80,508.18 L333.07,507.89 L333.34,507.59 L333.60,507.28 L333.86,506.97 L334.12,506.66 L334.37,506.34 L334.62,506.02 L334.87,505.70 L335.12,505.37 L335.36,505.04 L335.60,504.70" stroke="#111" stroke-width="1.5" fill="none" stroke-linejoin="round"/>
<path d="M298.00,492.80 L384.60,520.20" stroke="#111" stroke-width="1.5" fill="none" stroke-linejoin="round"/>
<path d="M392.20,509.90 L344.00,494.75 L302.60,458.75 L325.15,416.10" stroke="#111" stroke-width="1.5" fill="none" stroke-linejoin="round"/>
<path d="M325.22,416.04 L327.26,416.70 L329.30,417.34 L331.34,417.99 L333.39,418.63 L335.43,419.28 L337.48,419.91 L339.54,420.55 L341.59,421.19 L343.65,421.82 L345.71,422.45 L347.77,423.08 L349.84,423.71 L351.90,424.34 L353.97,424.97 L356.04,425.59 L358.11,426.22 L360.18,426.84 L362.26,427.47 L364.33,428.09 L366.41,428.72 L368.48,429.34 L370.56,429.97 L372.64,430.59 L374.72,431.22 L376.79,431.84 L378.87,432.47 L380.95,433.10 L383.03,433.73 L385.11,434.36 L387.19,434.99 L389.27,435.62 L391.35,436.26 L393.43,436.90 L395.51,437.54 L397.59,438.18 L399.66,438.82 L401.74,439.47 L403.81,440.12 L405.89,440.77 L407.96,441.42 L410.03,442.08 L412.10,442.74 L414.17,443.40 L416.24,444.07 L418.31,444.74 L420.37,445.42 L422.43,446.10 L424.49,446.78 L426.55,447.47 L428.60,448.16 L430.65,448.86 L432.70,449.56 L434.75,450.26 L436.80,450.97 L438.84,451.69 L440.88,452.41 L442.91,453.14 L444.95,453.87 L446.98,454.61 L449.00,455.36 L451.02,456.11 L453.04,456.86 L455.06,457.63 L457.07,458.40 L459.08,459.17 L461.08,459.96 L463.08,460.75 L465.07,461.54 L467.06,462.35 L469.05,463.16 L471.03,463.98 L473.01,464.81 L474.98,465.64 L476.94,466.49 L478.91,467.34 L480.86,468.20 L482.81,469.07 L484.76,469.95 L486.70,470.83 L488.65,471.73 L490.59,472.63 L492.53,473.55 L494.47,474.48 L496.41,475.41 L498.35,476.36 L500.30,477.32 L502.25,478.30 L504.20,479.28 L506.16,480.27 L508.13,481.28 L510.10,482.31 L512.08,483.34 L514.07,484.39 L516.07,485.45 L518.08,486.53 L520.09,487.62 L522.08,488.74 L524.01,489.89 L525.81,491.10 L527.46,492.37 L528.90,493.72 L530.09,495.16 L530.98,496.69 L531.22,498.22 L530.24,499.49 L528.31,500.37 L526.06,500.76 L523.78,500.71 L521.51,500.34 L519.31,499.76 L517.18,499.06 L515.13,498.25 L513.13,497.34 L511.19,496.36 L509.30,495.31 L507.43,494.22 L505.59,493.09 L503.76,491.95 L501.94,490.80 L500.10,489.67 L498.26,488.56 L496.40,487.48 L494.52,486.43 L492.63,485.41 L490.72,484.41 L488.80,483.44 L486.86,482.49 L484.92,481.56 L482.96,480.65 L480.99,479.77 L479.01,478.91 L477.02,478.06 L475.02,477.24 L473.01,476.43 L471.00,475.63 L468.97,474.86 L466.94,474.09 L464.90,473.34 L462.86,472.61 L460.81,471.88 L458.76,471.16 L456.71,470.46 L454.65,469.76 L452.58,469.07 L450.52,468.39 L448.46,467.71 L446.39,467.04 L444.32,466.37 L442.26,465.71 L440.19,465.04 L438.13,464.38 L436.07,463.72 L434.02,463.06 L431.96,462.39 L429.91,461.72 L427.87,461.05 L425.83,460.38 L423.80,459.69 L421.77,459.01" stroke="#111" stroke-width="1.5" fill="none" stroke-linejoin="round"/>
<path d="M421.78,458.98 L421.47,459.02 L421.16,459.07 L420.86,459.12 L420.57,459.17 L420.28,459.23 L419.99,459.29 L419.70,459.36 L419.42,459.43 L419.15,459.51 L418.88,459.59 L418.61,459.67 L418.34,459.76 L418.08,459.85 L417.83,459.94 L417.57,460.04 L417.32,460.15 L417.08,460.25 L416.84,460.36 L416.60,460.48 L416.36,460.60 L416.13,460.72 L415.90,460.84 L415.68,460.97 L415.46,461.10 L415.24,461.24 L415.02,461.38 L414.81,461.52 L414.60,461.66 L414.40,461.81 L414.20,461.96 L414.00,462.12 L413.80,462.28 L413.61,462.44 L413.42,462.60 L413.24,462.77 L413.05,462.94 L412.87,463.11 L412.69,463.28 L412.52,463.46 L412.35,463.64 L412.18,463.83 L412.01,464.01 L411.85,464.20 L411.69,464.39 L411.53,464.58 L411.37,464.78 L411.22,464.98 L411.07,465.18 L410.92,465.38 L410.77,465.58 L410.63,465.79 L410.49,466.00 L410.35,466.21 L410.22,466.43 L410.08,466.64 L409.95,466.86 L409.82,467.08 L409.69,467.30 L409.57,467.52 L409.44,467.75 L409.32,467.97 L409.20,468.20 L409.09,468.43 L408.97,468.66 L408.86,468.89 L408.75,469.13 L408.64,469.36 L408.53,469.60 L408.42,469.84 L408.32,470.08 L408.22,470.32 L408.11,470.56 L408.02,470.81 L407.92,471.05 L407.82,471.30 L407.73,471.54 L407.63,471.79 L407.54,472.04 L407.45,472.29 L407.36,472.54 L407.28,472.79 L407.19,473.04 L407.10,473.29 L407.02,473.55 L406.94,473.80 L406.86,474.05 L406.78,474.31 L406.70,474.56 L406.62,474.82 L406.54,475.08 L406.47,475.33 L406.39,475.59 L406.32,475.85 L406.24,476.10 L406.17,476.36 L406.10,476.62 L406.03,476.88 L405.96,477.13 L405.89,477.39 L405.82,477.65 L405.75,477.91 L405.68,478.16 L405.61,478.42 L405.55,478.68 L405.48,478.94 L405.41,479.19 L405.35,479.45 L405.28,479.71 L405.21,479.96 L405.15,480.22 L405.08,480.47 L405.01,480.73 L404.95,480.98 L404.88,481.24 L404.81,481.49 L404.75,481.75 L404.68,482.00 L404.61,482.25 L404.54,482.51 L404.47,482.76 L404.40,483.01 L404.33,483.26 L404.25,483.51 L404.18,483.76 L404.11,484.01 L404.03,484.26 L403.95,484.51 L403.88,484.75 L403.80,485.00 L403.72,485.25 L403.63,485.49 L403.55,485.74 L403.47,485.98 L403.38,486.22 L403.29,486.47 L403.20,486.71 L403.11,486.95 L403.02,487.19 L402.92,487.43 L402.83,487.66 L402.73,487.90 L402.63,488.14 L402.52,488.37 L402.42,488.61 L402.31,488.84 L402.20,489.07 L402.09,489.30 L401.97,489.53 L401.86,489.76 L401.74,489.99 L401.61,490.21 L401.49,490.44 L401.36,490.66 L401.23,490.88 L401.09,491.10 L400.96,491.32 L400.82,491.54 L400.67,491.76 L400.53,491.98" stroke="#111" stroke-width="1.5" fill="none" stroke-linejoin="round"/>
<path d="M400.50,492.00 L392.20,509.90" stroke="#111" stroke-width="1.5" fill="none" stroke-linejoin="round"/>
<path d="M344.00,494.75 L396.40,490.10" stroke="#111" stroke-width="1.5" fill="none" stroke-linejoin="round"/>
<path d="M344.02,494.73 L344.33,494.25 L344.63,493.77 L344.94,493.30 L345.25,492.82 L345.57,492.35 L345.88,491.88 L346.21,491.41 L346.53,490.94 L346.86,490.48 L347.19,490.02 L347.53,489.56 L347.87,489.10 L348.21,488.64 L348.56,488.18 L348.91,487.73 L349.26,487.28 L349.62,486.83 L349.98,486.38 L350.34,485.94 L350.71,485.50 L351.07,485.06 L351.45,484.62 L351.82,484.18 L352.20,483.75 L352.58,483.32 L352.97,482.89 L353.36,482.46 L353.75,482.04 L354.14,481.61 L354.54,481.19 L354.94,480.78 L355.34,480.36 L355.74,479.95 L356.15,479.54 L356.56,479.13 L356.98,478.73 L357.40,478.33 L357.82,477.93 L358.24,477.53 L358.66,477.14 L359.09,476.75 L359.52,476.36 L359.96,475.98 L360.39,475.60 L360.83,475.22 L361.27,474.84 L361.72,474.47 L362.16,474.10 L362.61,473.73 L363.06,473.37 L363.52,473.01 L363.97,472.65 L364.43,472.29 L364.89,471.94 L365.36,471.59 L365.82,471.25 L366.29,470.91 L366.76,470.57 L367.23,470.23 L367.71,469.90 L368.19,469.57 L368.67,469.25 L369.15,468.93 L369.63,468.61 L370.12,468.30 L370.61,467.98 L371.10,467.68 L371.59,467.37 L372.09,467.07 L372.58,466.78 L373.08,466.48 L373.58,466.20 L374.08,465.91 L374.59,465.63 L375.10,465.35 L375.60,465.08 L376.11,464.81 L376.63,464.54 L377.14,464.28 L377.66,464.02 L378.17,463.77 L378.69,463.52 L379.21,463.27 L379.74,463.03 L380.26,462.79 L380.79,462.56 L381.32,462.33 L381.85,462.11 L382.38,461.88 L382.91,461.67 L383.44,461.46 L383.98,461.25 L384.52,461.04 L385.05,460.85 L385.59,460.65 L386.14,460.46 L386.68,460.27 L387.22,460.09 L387.77,459.92 L388.32,459.74 L388.86,459.58 L389.41,459.41 L389.97,459.26 L390.52,459.10 L391.07,458.95 L391.62,458.81 L392.18,458.67 L392.74,458.54 L393.29,458.41 L393.85,458.28 L394.41,458.17 L394.97,458.05 L395.54,457.94 L396.10,457.84 L396.66,457.74 L397.23,457.65 L397.79,457.56 L398.36,457.47 L398.92,457.40 L399.49,457.32 L400.06,457.26 L400.63,457.20 L401.20,457.14 L401.77,457.09 L402.34,457.04 L402.91,457.00 L403.49,456.97 L404.06,456.94 L404.63,456.92 L405.21,456.90 L405.78,456.89 L406.36,456.88 L406.93,456.88 L407.51,456.89 L408.09,456.90 L408.66,456.92 L409.24,456.94 L409.82,456.97 L410.40,457.00 L410.97,457.05 L411.55,457.09 L412.13,457.15 L412.71,457.21 L413.29,457.27 L413.87,457.34 L414.45,457.42 L415.03,457.51 L415.61,457.60 L416.18,457.70 L416.76,457.80 L417.34,457.91 L417.92,458.03 L418.50,458.15 L419.08,458.28 L419.66,458.42 L420.24,458.56 L420.82,458.71 L421.39,458.86 L421.97,459.03" stroke="#111" stroke-width="1.5" fill="none" stroke-linejoin="round"/>
<ellipse cx="402.5" cy="485.75" rx="2.6" ry="5" stroke="#111" stroke-width="1.1" fill="none"/>
<path d="M291.6,475.5 Q291.5,478 294,478.6 M291.6,475.5 L295.2,433.5 Q295.6,429.6 299.5,429.3 L345,425.3 L345.00,425.30 C352.50,424.35 378.33,420.88 390.00,419.60 C401.67,418.32 406.25,418.07 415.00,417.60 C423.75,417.13 431.67,416.90 442.50,416.80 C453.33,416.70 469.00,416.70 480.00,417.00 C491.00,417.30 502.42,417.85 508.50,418.60 C514.58,419.35 515.17,420.18 516.50,421.50 C517.83,422.82 518.42,424.88 516.50,426.50 C514.58,428.12 512.75,430.48 505.00,431.20 C497.25,431.92 480.83,431.08 470.00,430.80 C459.17,430.52 448.33,429.67 440.00,429.50 C431.67,429.33 425.67,429.62 420.00,429.80 C414.33,429.98 409.67,429.82 406.00,430.60 C402.33,431.38 400.00,431.93 398.00,434.50 C396.00,437.07 394.43,439.92 394.00,446.00 C393.57,452.08 394.90,463.54 395.40,471.00 C395.90,478.46 396.73,487.46 397.00,490.75" stroke="#3a3030" stroke-width="1.2" fill="none" stroke-dasharray="5 4.2"/>
<path d="M294.00,478.60 L344.00,494.75" stroke="#3a3030" stroke-width="1.2" fill="none" stroke-dasharray="5 4.2"/>
<path d="M344.48,493.99 L344.50,493.40 L344.53,492.80 L344.56,492.21 L344.60,491.61 L344.65,491.02 L344.70,490.42 L344.75,489.83 L344.81,489.24 L344.88,488.64 L344.95,488.05 L345.03,487.45 L345.11,486.86 L345.20,486.27 L345.29,485.67 L345.39,485.08 L345.49,484.49 L345.60,483.90 L345.72,483.31 L345.84,482.72 L345.96,482.13 L346.09,481.54 L346.23,480.95 L346.37,480.37 L346.52,479.78 L346.67,479.20 L346.82,478.62 L346.99,478.04 L347.15,477.46 L347.33,476.88 L347.50,476.30 L347.69,475.73 L347.87,475.16 L348.07,474.59 L348.27,474.02 L348.47,473.45 L348.68,472.88 L348.89,472.32 L349.11,471.76 L349.34,471.20 L349.57,470.64 L349.80,470.08 L350.04,469.53 L350.29,468.98 L350.54,468.43 L350.79,467.89 L351.05,467.35 L351.32,466.81 L351.59,466.27 L351.86,465.73 L352.15,465.20 L352.43,464.67 L352.72,464.15 L353.02,463.62 L353.32,463.10 L353.63,462.59 L353.94,462.07 L354.25,461.56 L354.58,461.06 L354.90,460.55 L355.23,460.06 L355.57,459.56 L355.91,459.07 L356.26,458.58 L356.61,458.09 L356.97,457.61 L357.33,457.14 L357.70,456.66 L358.07,456.19 L358.44,455.73 L358.82,455.27 L359.21,454.81 L359.60,454.36 L360.00,453.91 L360.40,453.47 L360.80,453.03 L361.21,452.59 L361.63,452.16 L362.05,451.73 L362.47,451.31 L362.90,450.89 L363.33,450.47 L363.76,450.06 L364.20,449.65 L364.64,449.25 L365.09,448.85 L365.54,448.46 L366.00,448.06 L366.46,447.68 L366.92,447.29 L367.39,446.92 L367.86,446.54 L368.33,446.17 L368.81,445.80 L369.29,445.44 L369.77,445.08 L370.26,444.72 L370.74,444.37 L371.24,444.03 L371.73,443.68 L372.23,443.34 L372.73,443.01 L373.24,442.68 L373.75,442.35 L374.25,442.03 L374.77,441.71 L375.28,441.39 L375.80,441.08 L376.32,440.77 L376.84,440.47 L377.37,440.17 L377.89,439.87 L378.42,439.58 L378.96,439.29 L379.49,439.01 L380.02,438.73 L380.56,438.45 L381.10,438.18 L381.64,437.91 L382.18,437.64 L382.73,437.38 L383.27,437.12 L383.82,436.87 L384.37,436.62 L384.92,436.37 L385.47,436.13 L386.03,435.89 L386.58,435.66 L387.14,435.43 L387.69,435.20 L388.25,434.98 L388.81,434.76 L389.37,434.54 L389.93,434.33 L390.49,434.12 L391.05,433.92 L391.61,433.72 L392.18,433.52 L392.74,433.33 L393.31,433.15 L393.87,432.96 L394.44,432.78 L395.01,432.61 L395.58,432.44 L396.15,432.27 L396.72,432.11 L397.29,431.95 L397.86,431.80 L398.44,431.65 L399.01,431.51 L399.59,431.37 L400.16,431.23 L400.74,431.10 L401.31,430.97 L401.89,430.85 L402.47,430.74 L403.05,430.63 L403.63,430.52 L404.21,430.42 L404.79,430.32" stroke="#3a3030" stroke-width="1.2" fill="none" stroke-dasharray="5 4.2"/>
<path d="M251.70,659.35 L253.75,670.35 L337.70,670.35 L340.40,659.35" stroke="#111" stroke-width="1.5" fill="none" stroke-linejoin="round"/>
<path d="M253.75,671.3 Q264,686.5 274.4,671.3 Q295,686 316.3,671.3 Q326,686.5 336.3,671.3" stroke="#111" stroke-width="1.5" fill="none" stroke-linejoin="round"/>
<path d="M276,671 Q295,682 314.5,671" stroke="#999" stroke-width="0.9" fill="none"/>
<path d="M253.75,672.00 C253.29,675.00 251.69,683.58 251.00,690.00 C250.31,696.42 249.83,707.08 249.60,710.50" stroke="#111" stroke-width="1.5" fill="none" stroke-linejoin="round"/>
<path d="M336.30,670.60 C337.08,673.83 339.97,683.35 341.00,690.00 C342.03,696.65 342.25,707.08 342.50,710.50" stroke="#111" stroke-width="1.5" fill="none" stroke-linejoin="round"/>
<path d="M274.40,671.30 C274.17,674.42 273.35,683.47 273.00,690.00 C272.65,696.53 272.42,707.08 272.30,710.50" stroke="#111" stroke-width="1.5" fill="none" stroke-linejoin="round"/>
<path d="M316.30,671.30 C316.58,674.42 317.55,683.47 318.00,690.00 C318.45,696.53 318.83,707.08 319.00,710.50" stroke="#111" stroke-width="1.5" fill="none" stroke-linejoin="round"/>
<path d="M249.60,710.50 C251.55,710.05 257.52,707.57 261.30,707.80 C265.08,708.03 266.68,711.90 272.30,711.90 C277.92,711.90 287.22,707.92 295.00,707.80 C302.78,707.68 313.27,711.08 319.00,711.20 C324.73,711.32 325.48,708.62 329.40,708.50 C333.32,708.38 340.32,710.17 342.50,710.50" stroke="#111" stroke-width="1.5" fill="none" stroke-linejoin="round"/>
<rect x="237" y="372.5" width="26.5" height="13.8" fill="#fff"/>
<g style="filter:grayscale(1)">
<text transform="translate(92.00 312.00) rotate(-90) scale(0.82 1)" font-size="20" text-anchor="middle" font-family="Liberation Sans, sans-serif" fill="#111">282</text>
<text transform="translate(93.00 634.00) rotate(-90) scale(0.74 1)" font-size="20" text-anchor="middle" font-family="Liberation Sans, sans-serif" fill="#111">25MAX</text>
<text transform="translate(626.80 411.50) rotate(-90) scale(0.76 1)" font-size="21" text-anchor="middle" font-family="Liberation Sans, sans-serif" fill="#111">185</text>
<text transform="translate(593.00 514.80) rotate(-90) scale(0.82 1)" font-size="19.5" text-anchor="middle" font-family="Liberation Sans, sans-serif" fill="#111">98</text>
<text transform="translate(296.00 579.50) rotate(0) scale(0.85 1)" font-size="18" text-anchor="middle" font-family="Liberation Sans, sans-serif" fill="#111">ø35</text>
<text transform="translate(250.50 387.00) rotate(0) scale(0.85 1)" font-size="18" text-anchor="middle" font-family="Liberation Sans, sans-serif" fill="#111">ø20</text>
<text transform="translate(413.80 744.80) rotate(0) scale(0.9 1)" font-size="17" text-anchor="middle" font-family="Liberation Sans, sans-serif" fill="#111">120</text>
<text transform="translate(487.00 778.50) rotate(0) scale(0.84 1)" font-size="17" text-anchor="middle" font-family="Liberation Sans, sans-serif" fill="#111">194</text>
<text transform="translate(355.50 211.00) rotate(0) scale(0.895 1)" font-size="23.4" text-anchor="middle" font-family="Liberation Sans, sans-serif" fill="#111">360'</text>
</g>
</svg>
</body></html>
